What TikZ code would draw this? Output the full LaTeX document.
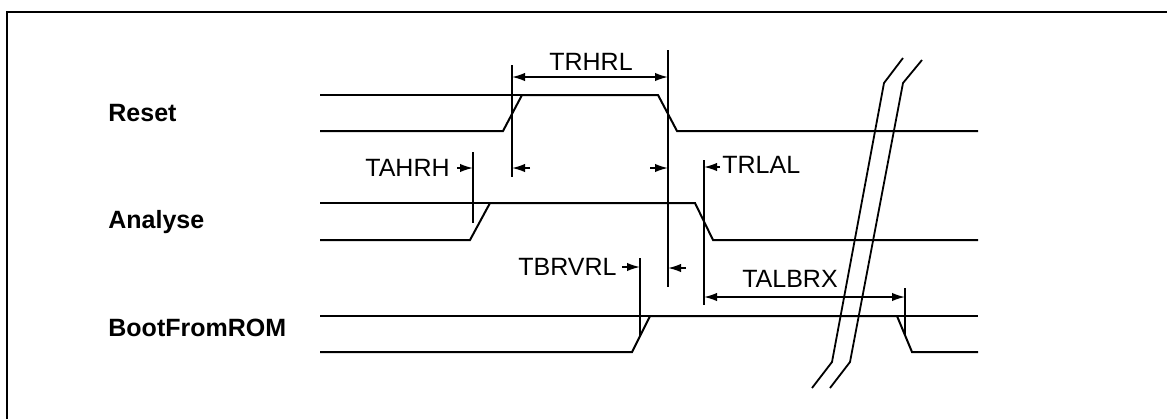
\documentclass[tikz,border=0pt]{standalone}
\usepackage{fontspec}
\setmainfont{Liberation Sans}
\usetikzlibrary{arrows.meta,positioning,calc}

\begin{document}
\begin{tikzpicture}[
  x=0.5pt,y=-0.5pt,
  every node/.style={font=\fontsize{12.5}{14}\selectfont,inner sep=0pt},
  lbl/.style={font=\fontsize{12.5}{14}\selectfont\bfseries,anchor=west},
  sig/.style={line width=1pt,line join=miter},
  lvl/.style={line width=0.6pt},
  mk/.style={line width=0.9pt},
  dim/.style={{Latex[length=6.5pt,width=4.2pt]}-{Latex[length=6.5pt,width=4.2pt]},line width=0.8pt},
  pin/.style={-{Latex[length=6.5pt,width=4.2pt]},line width=0.8pt}
]
\useasboundingbox (0,0) rectangle (1167,419);
\draw[line width=1pt] (7,419) -- (7,12) -- (1167,12);

% signal names
\node[lbl] (reset) at (108,113) {Reset};
\node[lbl] (analyse) at (108,222) {Analyse};
\node[lbl] (boot) at (108,328) {BootFromROM};

% waveforms
\draw[lvl] (320,95) -- (522,95);
\draw[sig] (320,131) -- (503,131) -- (522,95) -- (658,95) -- (677,131) -- (978,131);
\draw[sig] (320,203) -- (490,203);
\draw[sig] (320,240) -- (470,240) -- (490,203) -- (695,203) -- (713,240) -- (978,240);
\draw[lvl] (320,316) -- (650,316);
\draw[lvl] (897,316) -- (978,316);
\draw[sig] (320,352) -- (632,352) -- (650,316) -- (897,316) -- (912,352) -- (978,352);

% reference lines
\coordinate (ah) at (473,152); \coordinate (ahb) at (473,223);
\coordinate (rh) at (512,65);  \coordinate (rhb) at (512,177);
\coordinate (bv) at (640,258); \coordinate (bvb) at (640,336);
\coordinate (rl) at (668,50);  \coordinate (rlb) at (668,287);
\coordinate (al) at (704,160); \coordinate (alb) at (704,305);
\coordinate (bx) at (905,288); \coordinate (bxb) at (905,335);
\foreach \a/\b in {ah/ahb,rh/rhb,bv/bvb,rl/rlb,al/alb,bx/bxb}
  \draw[mk] (\a) -- (\b);

% TRHRL
\node (trhrl) at (591,62) {TRHRL};
\draw[dim] (rh |- 0,77) -- (rl |- 0,77);

% TAHRH
\node[anchor=east] (tahrh) at (450,168) {TAHRH};
\draw[pin] ($(tahrh.east)+(7,0)$) -- (ah |- tahrh.east);
\coordinate (tahrh2) at (530,168);
\draw[pin] (tahrh2) -- (rh |- tahrh2);

% TRLAL
\node[anchor=west] (trlal) at (722,165) {TRLAL};
\coordinate (trlal1) at (650,168);
\draw[pin] (trlal1) -- (rl |- trlal1);
\draw[pin] ($(trlal.west)+(-2,2)$) -- (al |- 0,167);

% TBRVRL
\node[anchor=east] (tbrvrl) at (617,267) {TBRVRL};
\draw[pin] ($(tbrvrl.east)+(5,0)$) -- (bv |- tbrvrl.east);
\coordinate (tbrvrl2) at (686,268);
\draw[pin] (tbrvrl2) -- (rl |- tbrvrl2);

% TALBRX
\node (talbrx) at (790,279) {TALBRX};
\draw[dim] (al |- 0,297) -- (bx |- 0,297);

% break marks
\draw[mk] (903,58) -- (884,83) -- (832,362) -- (812,388);
\draw[mk] (922,60) -- (903,83) -- (850,362) -- (830,388);
\end{tikzpicture}
\end{document}
